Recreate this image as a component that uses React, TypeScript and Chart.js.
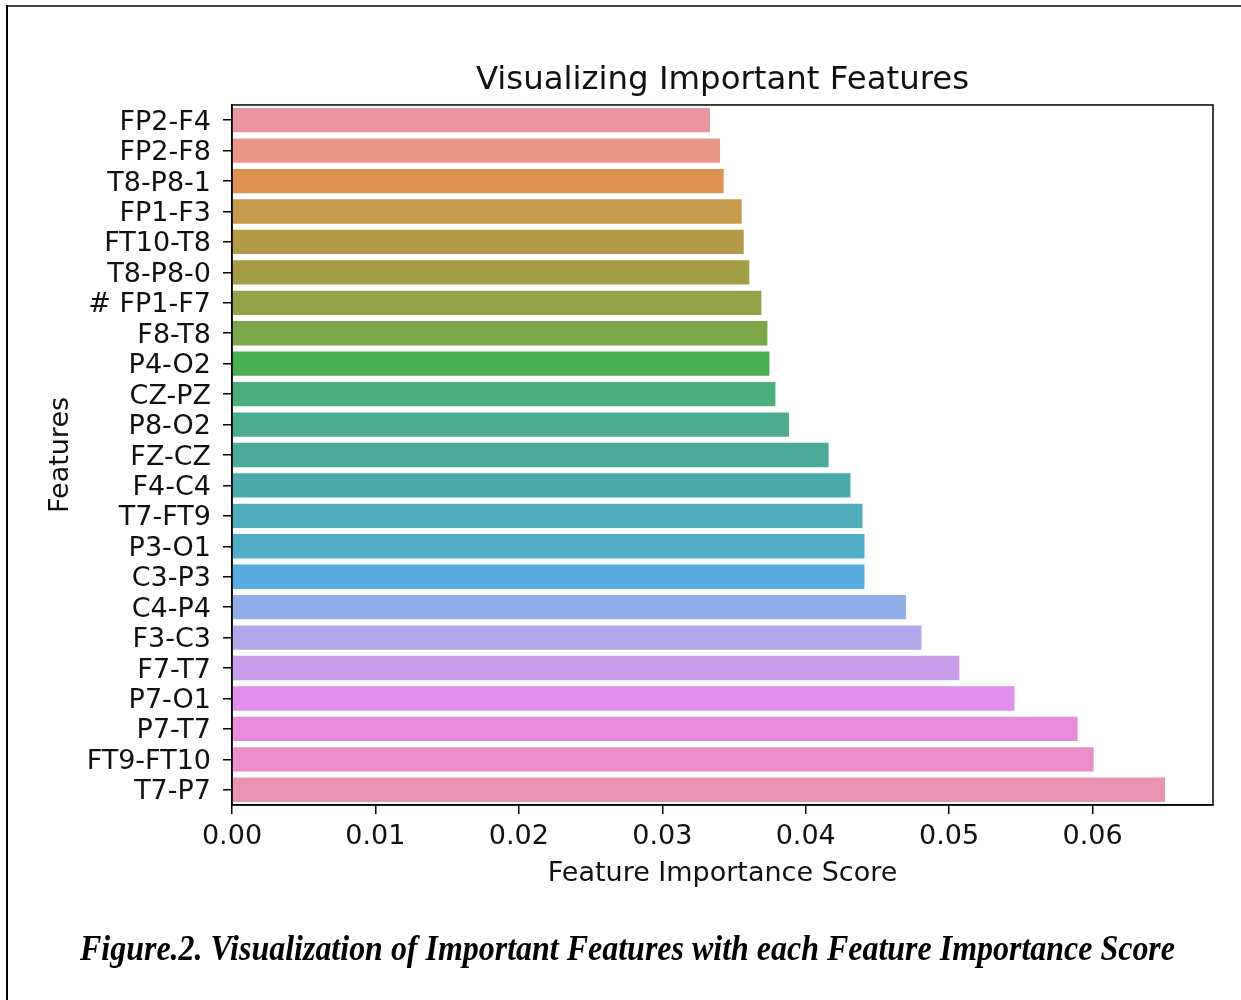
import React, { useEffect, useLayoutEffect, useRef } from 'react';
import { Chart, registerables } from 'chart.js';

Chart.register(...registerables);

const features = [
  'FP2-F4', 'FP2-F8', 'T8-P8-1', 'FP1-F3', 'FT10-T8', 'T8-P8-0', '# FP1-F7', 'F8-T8',
  'P4-O2', 'CZ-PZ', 'P8-O2', 'FZ-CZ', 'F4-C4', 'T7-FT9', 'P3-O1', 'C3-P3',
  'C4-P4', 'F3-C3', 'F7-T7', 'P7-O1', 'P7-T7', 'FT9-FT10', 'T7-P7',
];

const scores = [
  0.03333, 0.03403, 0.03428, 0.03554, 0.03568, 0.03607, 0.03691, 0.03733,
  0.03747, 0.03789, 0.03884, 0.0416, 0.04312, 0.04396, 0.0441, 0.0441,
  0.04699, 0.04807, 0.05071, 0.05456, 0.05896, 0.06008, 0.06506,
];

const barColors = [
  '#e8959f', '#e89688', '#de9050', '#c69a4c', '#b49b48', '#a39e46', '#95a348', '#7ca74a',
  '#49ae50', '#49ae7c', '#4bac8f', '#4caa9b', '#4daaaa', '#50acba', '#52aec7', '#58acde',
  '#92aee8', '#b0a8ea', '#c89eec', '#de90ea', '#e88cda', '#e98ec8', '#e893b2',
];

const xMin = 0;
const xMax = 0.0684;
const xStep = 0.01;

const chartTitle = 'Visualizing Important Features';
const xTitle = 'Feature Importance Score';
const yTitle = 'Features';
const caption = 'Figure.2. Visualization of Important Features with each Feature Importance Score';

const FONT = "'DejaVu Sans', sans-serif";

const framePlugin = {
  id: 'frame',
  afterDraw(chart: any) {
    const { ctx, chartArea } = chart;
    ctx.save();
    ctx.strokeStyle = '#000';
    ctx.lineWidth = 1.5;
    ctx.strokeRect(chartArea.left, chartArea.top, chartArea.right - chartArea.left, chartArea.bottom - chartArea.top);
    ctx.restore();
  },
};

export default function App() {
  const canvasRef = useRef<HTMLCanvasElement | null>(null);
  const capRef = useRef<HTMLSpanElement | null>(null);

  useLayoutEffect(() => {
    const el = capRef.current;
    if (!el) return;
    el.style.transform = 'none';
    const w = el.getBoundingClientRect().width;
    if (w > 0) el.style.transform = `scaleX(${1095 / w})`;
  }, []);

  useEffect(() => {
    if (!canvasRef.current) return;
    const tickFont = { family: FONT, size: 27, weight: 'normal' as const };
    const chart = new Chart(canvasRef.current, {
      type: 'bar',
      data: {
        labels: features,
        datasets: [
          {
            data: scores,
            backgroundColor: barColors,
            borderWidth: 0,
            barPercentage: 0.8,
            categoryPercentage: 1,
          },
        ],
      },
      options: {
        indexAxis: 'y',
        responsive: false,
        animation: false,
        devicePixelRatio: 1,
        layout: { padding: { left: 30, right: 28, top: 0, bottom: 100 } },
        plugins: {
          legend: { display: false },
          tooltip: { enabled: false },
          title: {
            display: true,
            fullSize: false,
            text: chartTitle,
            color: '#111',
            font: { family: FONT, size: 32.4, weight: 'normal' },
            padding: { top: 61.5, bottom: 4.6 },
          },
        },
        scales: {
          x: {
            type: 'linear',
            min: xMin,
            max: xMax,
            ticks: {
              stepSize: xStep,
              includeBounds: false,
              color: '#111',
              font: tickFont,
              padding: 7,
              callback: (v: any) => Number(v).toFixed(2),
            },
            grid: {
              display: true,
              drawOnChartArea: false,
              drawTicks: true,
              tickLength: 9,
              tickColor: '#000',
              lineWidth: 1.5,
            },
            border: { display: true, color: '#000', width: 1.5 },
            title: {
              display: true,
              text: xTitle,
              color: '#111',
              font: tickFont,
              padding: { top: 0, bottom: 9.8 },
            },
            afterFit: (s: any) => {
              s.height = 95;
            },
          },
          y: {
            ticks: {
              color: '#111',
              font: tickFont,
              padding: 12,
              labelOffset: 2.5,
              autoSkip: false,
            },
            grid: {
              display: true,
              offset: false,
              drawOnChartArea: false,
              drawTicks: true,
              tickLength: 9,
              tickColor: '#000',
              lineWidth: 1.5,
            },
            border: { display: true, color: '#000', width: 1.5 },
            title: {
              display: true,
              text: yTitle,
              color: '#111',
              font: tickFont,
              padding: { top: 14.8, bottom: 0 },
            },
            afterFit: (s: any) => {
              s.width = 202;
            },
          },
        },
      } as any,
      plugins: [framePlugin],
    });
    return () => chart.destroy();
  }, []);

  return (
    <div style={{ position: 'absolute', left: 0, top: 0, width: 1241, height: 1000, background: '#fff', overflow: 'hidden' }}>
      <canvas ref={canvasRef} width={1241} height={1000} style={{ position: 'absolute', left: 0, top: 0, width: 1241, height: 1000 }} />
      <div style={{ position: 'absolute', left: 6, top: 5, width: 1235, height: 2, background: '#444' }} />
      <div style={{ position: 'absolute', left: 6, top: 5, width: 2, height: 995, background: '#000' }} />
      <span
        ref={capRef}
        style={{
          position: 'absolute',
          left: 80,
          top: 927,
          whiteSpace: 'nowrap',
          fontFamily: "'Liberation Serif', 'Times New Roman', serif",
          fontWeight: 'bold',
          fontStyle: 'italic',
          fontSize: 36,
          color: '#000',
          transformOrigin: 'left top',
          display: 'inline-block',
        }}
      >
        {caption}
      </span>
    </div>
  );
}
